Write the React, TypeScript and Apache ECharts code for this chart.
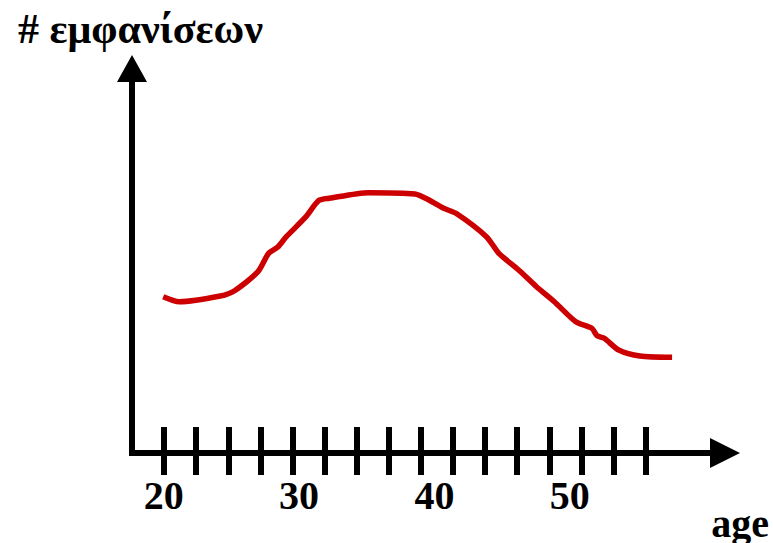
import React, { useEffect, useRef } from "react";
import * as echarts from "echarts";

// Hand-sketched curve: number of occurrences vs age (arbitrary units 0-100)
const ages = [
  19.93, 21.18, 24.38, 25.49, 27.31, 28.14, 28.83, 29.52, 31.05, 32.03, 32.87,
  35.93, 39.54, 40.37, 41.77, 42.73, 45.1, 46.07, 47.61, 49.0, 50.39, 52.06,
  53.31, 53.71, 54.28, 55.4, 57.06, 59.56,
];
const occurrences = [
  40.65, 39.35, 40.83, 42.21, 47.15, 51.94, 53.5, 56.26, 61.46, 65.62, 66.24,
  67.7, 67.36, 66.24, 63.64, 62.34, 56.26, 51.94, 47.59, 43.25, 39.35, 34.15,
  32.43, 30.51, 29.83, 26.79, 25.23, 24.89,
];
const tickValues = [
  20, 22.5, 25, 27.5, 30, 32.5, 35, 37.5, 40, 42.5, 45, 47.5, 50, 52.5, 55,
  57.5,
];
const labelValues = [20, 30, 40, 50];
const yTitle = "# εμφανίσεων";
const xTitle = "age";

const FONT = "'Liberation Serif', 'Times New Roman', serif";

export default function App() {
  const ref = useRef<HTMLDivElement>(null);
  useEffect(() => {
    if (!ref.current) return;
    const chart = echarts.init(ref.current, null, { renderer: "svg" });
    chart.setOption({
      animation: false,
      backgroundColor: "#ffffff",
      title: {
        text: yTitle,
        left: 13,
        top: 3,
        textStyle: {
          fontFamily: FONT,
          fontWeight: "bold",
          fontSize: 42,
          color: "#000",
        },
      },
      graphic: [
        {
          type: "text",
          right: 4,
          top: 503,
          style: {
            text: xTitle,
            font: `bold 40px ${FONT}`,
            fill: "#000",
          },
        },
      ],
      grid: { left: 132, right: 48, top: 68.5, bottom: 90 },
      xAxis: [
        {
          // tick axis (ticks crossing the axis line)
          type: "value",
          position: "bottom",
          min: 17.5,
          max: 63.68,
          offset: -26,
          axisLine: { show: false },
          axisLabel: { show: false },
          splitLine: { show: false },
          axisTick: {
            show: true,
            length: 48,
            customValues: tickValues,
            lineStyle: { color: "#000", width: 6 },
          },
        },
        {
          // main axis line with arrow + labels
          type: "value",
          position: "bottom",
          offset: 0,
          min: 17.65,
          max: 61.48,
          axisLine: {
            show: true,
            symbol: ["none", "triangle"],
            symbolSize: [30, 30],
            lineStyle: { color: "#000", width: 6, cap: "square" },
          },
          axisTick: { show: false },
          splitLine: { show: false },
          axisLabel: {
            show: true,
            customValues: labelValues,
            margin: 22,
            fontFamily: FONT,
            fontWeight: "bold",
            fontSize: 40,
            color: "#000",
          },
        },
      ],
      yAxis: {
        type: "value",
        min: 0,
        max: 100,
        axisLine: {
          show: true,
          symbol: ["none", "triangle"],
          symbolSize: [30, 27],
          lineStyle: { color: "#000", width: 6, cap: "square" },
        },
        axisTick: { show: false },
        axisLabel: { show: false },
        splitLine: { show: false },
      },
      series: [
        {
          type: "line",
          xAxisIndex: 0,
          yAxisIndex: 0,
          data: ages.map((a, i) => [a, occurrences[i]]),
          showSymbol: false,
          smooth: 0.25,
          lineStyle: { color: "#CC0000", width: 5.5 },
        },
      ],
    });
    return () => chart.dispose();
  }, []);
  return (
    <div
      ref={ref}
      style={{ position: "absolute", left: 0, top: 0, width: 773, height: 543 }}
    />
  );
}
